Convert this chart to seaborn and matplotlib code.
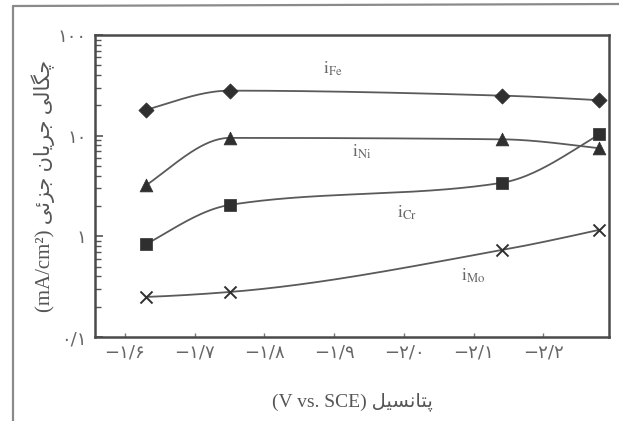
import numpy as np
import pandas as pd
import matplotlib
matplotlib.use("Agg")
import matplotlib.pyplot as plt
from matplotlib.lines import Line2D
from matplotlib.ticker import FixedLocator, LogLocator, NullFormatter
import seaborn as sns

# Partial current densities of alloy elements versus potential
volts = [-1.63, -1.75, -2.14, -2.28]
i_fe = [18.0, 28.0, 25.0, 22.5]
i_ni = [3.2, 9.5, 9.2, 7.5]
i_cr = [0.83, 2.05, 3.4, 10.3]
i_mo = [0.25, 0.28, 0.73, 1.16]

series_names = ["Fe", "Ni", "Cr", "Mo"]
x_ticks = [-1.6, -1.7, -1.8, -1.9, -2.0, -2.1, -2.2]
x_tick_labels = ["−۱/۶", "−۱/۷", "−۱/۸", "−۱/۹", "−۲/۰", "−۲/۱", "−۲/۲"]
y_ticks = [0.1, 1, 10, 100]
y_tick_labels = ["۰/۱", "۱", "۱۰", "۱۰۰"]

# Persian captions written in visual (shaped, left-to-right) order
x_label = "(V vs. SCE) " + "\uFEDE\uFBFF\uFEB4\uFEE7\uFE8E\uFE98\uFB58"
y_label = ("(mA/cm²) "
           + "\uFBFD\uFE8B\uFEB0\uFE9F" + " "
           + "\uFEE5\uFE8E\uFBFE\uFEAE\uFE9F" + " "
           + "\uFBFD\uFEDF\uFE8E\uFB95\uFB7C")

df = pd.DataFrame({
    "potential": volts * 4,
    "current": i_fe + i_ni + i_cr + i_mo,
    "element": [n for n in series_names for _ in volts],
})


def pchip_curve(x, y, num=200):
    """Shape-preserving cubic through the points, evaluated in log space."""
    t = -np.asarray(x, float)
    v = np.log10(np.asarray(y, float))
    h = np.diff(t)
    d = np.diff(v) / h
    n = len(t)
    m = np.zeros(n)
    for k in range(1, n - 1):
        if d[k - 1] * d[k] > 0:
            w1 = 2 * h[k] + h[k - 1]
            w2 = h[k] + 2 * h[k - 1]
            m[k] = (w1 + w2) / (w1 / d[k - 1] + w2 / d[k])
    for k, (a, b, ha, hb) in ((0, (d[0], d[1], h[0], h[1])),
                              (n - 1, (d[-1], d[-2], h[-1], h[-2]))):
        e = ((2 * ha + hb) * a - ha * b) / (ha + hb)
        if np.sign(e) != np.sign(a):
            e = 0.0
        elif np.sign(a) != np.sign(b) and abs(e) > abs(3 * a):
            e = 3 * a
        m[k] = e
    ts = np.linspace(t[0], t[-1], num)
    out = np.empty_like(ts)
    for i, tt in enumerate(ts):
        k = min(np.searchsorted(t, tt, side="right") - 1, n - 2)
        s = (tt - t[k]) / h[k]
        h00 = 2 * s**3 - 3 * s**2 + 1
        h10 = s**3 - 2 * s**2 + s
        h01 = -2 * s**3 + 3 * s**2
        h11 = s**3 - s**2
        out[i] = h00 * v[k] + h10 * h[k] * m[k] + h01 * v[k + 1] + h11 * h[k] * m[k + 1]
    return -ts, 10 ** out


sns.set_theme(style="white")
plt.rcParams["font.family"] = ["DejaVu Sans"]
plt.rcParams["mathtext.fontset"] = "stix"

fig = plt.figure(figsize=(6.19, 4.21), dpi=100)
ax = fig.add_axes([95 / 619, 1 - 337 / 421, (609 - 95) / 619, (337 - 35) / 421])

line_color = "#5a5a5a"
mark_color = "#2f2f2f"
markers = {"Fe": "D", "Ni": "^", "Cr": "s", "Mo": "x"}
msize = {"Fe": 60, "Ni": 85, "Cr": 80, "Mo": 75}

for name in series_names:
    sub = df[df["element"] == name]
    cx, cy = pchip_curve(sub["potential"].to_numpy(), sub["current"].to_numpy())
    sns.lineplot(x=cx, y=cy, ax=ax, color=line_color, linewidth=1.3,
                 sort=False, estimator=None)
    if markers[name] == "x":
        sns.scatterplot(data=sub, x="potential", y="current", ax=ax,
                        marker="x", s=msize[name], color=mark_color,
                        linewidth=1.4, zorder=5)
    else:
        sns.scatterplot(data=sub, x="potential", y="current", ax=ax,
                        marker=markers[name], s=msize[name], color=mark_color,
                        edgecolor=mark_color, linewidth=0.5, zorder=5)

# curve captions
caption_at = {"Fe": (-1.898, 46), "Ni": (-1.94, 6.9), "Cr": (-2.005, 1.73), "Mo": (-2.10, 0.41)}
for name in series_names:
    cxp, cyp = caption_at[name]
    ax.text(cxp, cyp, r"$\mathrm{i}_{\mathrm{%s}}$" % name, ha="center", va="center",
            fontsize=13, color="#666666")

ax.set_yscale("log")
ax.set_ylim(0.1, 100)
ax.set_xlim(-1.557, -2.294)

ax.xaxis.set_major_locator(FixedLocator(x_ticks))
ax.set_xticklabels(x_tick_labels)
ax.yaxis.set_major_locator(FixedLocator(y_ticks))
ax.set_yticklabels(y_tick_labels)
ax.yaxis.set_minor_locator(LogLocator(base=10, subs=np.arange(2, 10)))
ax.yaxis.set_minor_formatter(NullFormatter())

ax.tick_params(axis="x", which="major", direction="in", length=3, width=1,
               color="#777777", labelsize=13, labelcolor="#666666", pad=5,
               bottom=True, top=False)
ax.tick_params(axis="y", which="major", direction="in", length=6, width=1.2,
               color="#555555", labelsize=13, labelcolor="#666666", pad=6,
               left=True, right=False)
ax.tick_params(axis="y", which="minor", direction="in", length=4, width=1,
               color="#555555", left=True, right=False)

for sp in ax.spines.values():
    sp.set_linewidth(1.8)
    sp.set_color("#4a4a4a")

ax.set_xlabel(x_label, family=["Liberation Serif", "DejaVu Sans"], fontsize=14,
              color="#555555", labelpad=22)
ax.set_ylabel(y_label, family=["Liberation Serif", "DejaVu Sans"], fontsize=15,
              color="#555555", labelpad=2)
ax.grid(False)

# outer frame of the figure panel
fig.add_artist(Line2D([13 / 619, 13 / 619], [0, 1 - 6 / 421], transform=fig.transFigure,
                      color="#8a8a8a", linewidth=1.6))
fig.add_artist(Line2D([13 / 619, 1], [1 - 6 / 421, 1 - 4 / 421], transform=fig.transFigure,
                      color="#8a8a8a", linewidth=1.6))

fig.savefig("out.png", dpi=100)
